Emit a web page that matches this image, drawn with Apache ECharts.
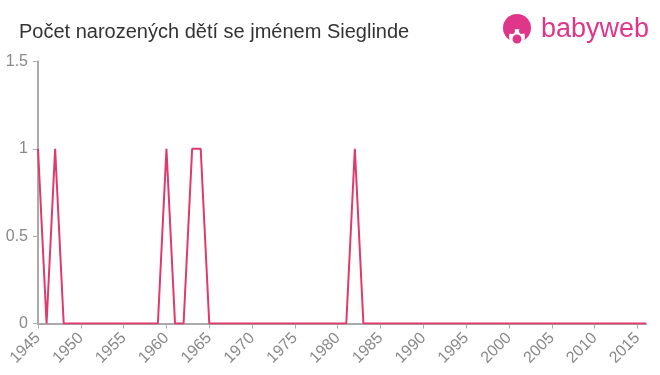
<!DOCTYPE html>
<html><head><meta charset="utf-8">
<script src="https://cdn.jsdelivr.net/npm/echarts@6/dist/echarts.min.js"></script>
<style>html,body{margin:0;padding:0;background:#fff}#c{width:660px;height:375px}</style>
</head><body><div id="c"></div>
<script>
const years = [];
for (let y = 1945; y <= 2016; y++) years.push(y);
const oneYears = [1945, 1947, 1960, 1963, 1964, 1982];
const counts = years.map(y => oneYears.includes(y) ? 1 : 0);
const yTicks = [0, 0.5, 1, 1.5];
const titleText = 'Počet narozených dětí se jménem Sieglinde';

const chart = echarts.init(document.getElementById('c'), null, {renderer: 'canvas'});
chart.setOption({
  animation: false,
  title: {text: titleText, left: 14, top: 17, textStyle: {fontFamily: 'Liberation Sans, Arial', fontSize: 20, fontWeight: 'normal', color: '#333'}},
  grid: {left: 38, right: 14, top: 61.5, bottom: 51.5, containLabel: false},
  xAxis: {
    type: 'value', min: 1945, max: 2016, interval: 5,
    axisLine: {lineStyle: {color: '#aaa', width: 2}},
    axisTick: {show: true, length: 5, lineStyle: {color: '#aaa'}},
    axisLabel: {rotate: 45, color: '#888', fontSize: 16, fontFamily: 'Liberation Sans, Arial', margin: 12, showMaxLabel: false,
      formatter: v => (v % 5 === 0 ? String(v) : '')},
    splitLine: {show: false}
  },
  yAxis: {
    type: 'value', min: 0, max: 1.5, interval: 0.5,
    axisLine: {show: true, lineStyle: {color: '#aaa', width: 2}},
    axisTick: {show: true, length: 5, lineStyle: {color: '#aaa'}},
    axisLabel: {color: '#888', fontSize: 16, fontFamily: 'Liberation Sans, Arial', margin: 10},
    splitLine: {show: false}
  },
  series: [{
    type: 'line', data: years.map((y, i) => [y, counts[i]]),
    showSymbol: false, lineStyle: {color: '#e0396b', width: 2}, itemStyle: {color: '#e0396b'}
  }],
  graphic: [
    {type: 'circle', shape: {cx: 517, cy: 28, r: 14}, style: {fill: '#e0368a'}},
    {type: 'circle', shape: {cx: 517, cy: 37, r: 8}, style: {fill: '#fff'}},
    {type: 'circle', shape: {cx: 512, cy: 31, r: 3}, style: {fill: '#e0368a'}},
    {type: 'circle', shape: {cx: 522, cy: 31, r: 3}, style: {fill: '#e0368a'}},
    {type: 'circle', shape: {cx: 517, cy: 39, r: 4.5}, style: {fill: '#e0368a'}},
    {type: 'text', left: 541, top: 16, style: {text: 'babyweb', fill: '#e0368a', fontSize: 27, fontFamily: 'Liberation Sans, Arial'}}
  ]
});
</script></body></html>
